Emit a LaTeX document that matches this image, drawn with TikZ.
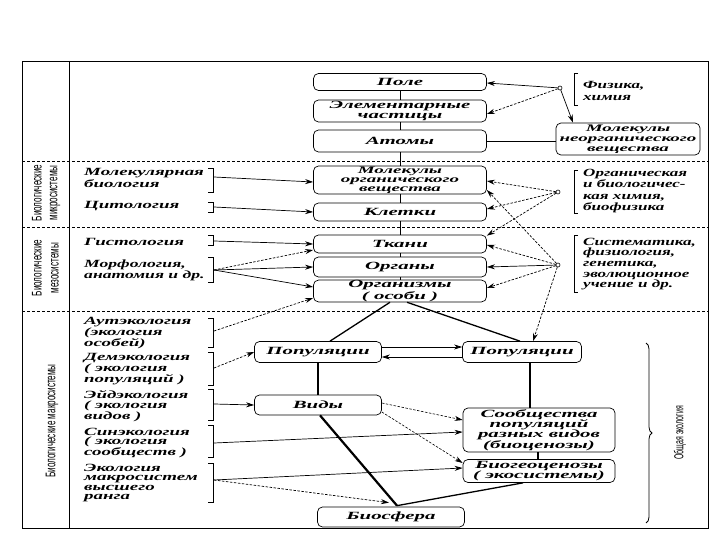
\documentclass[tikz,border=0pt]{standalone}
\usepackage{fontspec}
\setmainfont{Liberation Serif}
\newfontfamily\nodefam[FakeStretch=1.9]{Liberation Serif}
\newfontfamily\lblfam[FakeStretch=1.72]{Liberation Serif}
\newfontfamily\lblfamB[FakeStretch=1.6]{Liberation Serif}
\newfontfamily\rfam[FakeStretch=1.55]{Liberation Serif}
\newfontfamily\vertfont[FakeStretch=0.58]{Liberation Sans}
\newfontfamily\vertfontB[FakeStretch=0.54]{Liberation Sans}
\usetikzlibrary{arrows.meta,decorations.pathreplacing,calc}
\newcommand\dgnfont{\nodefam\fontsize{11}{10}\selectfont\bfseries\itshape}
\newcommand\lblfont{\lblfam\fontsize{11}{9.6}\selectfont\bfseries\itshape}
\newcommand\rlblfont{\rfam\fontsize{11}{11.5}\selectfont\bfseries\itshape}
\begin{document}
\begin{tikzpicture}[x=1pt,y=-1pt,
  box/.style={draw,rounded corners=5pt,line width=0.7pt,align=center,inner sep=0.5pt,font=\dgnfont},
  lbl/.style={anchor=west,align=left,inner sep=0pt,font=\lblfont},
  rlbl/.style={anchor=west,align=left,inner sep=0pt,font=\rlblfont},
  vlbl/.style={rotate=90,inner sep=0pt,font=\vertfont\fontsize{14}{14}\selectfont},
  arr/.style={-{Stealth[length=8pt,width=5pt]},line width=0.7pt},
  darr/.style={arr,dash pattern=on 2.5pt off 1.5pt},
  thin/.style={line width=0.7pt},
  mid/.style={line width=1.3pt},
  thick2/.style={line width=2.2pt},
  brk/.style={line width=0.7pt},
  sep/.style={line width=0.6pt,dash pattern=on 3pt off 2pt},
  frame/.style={line width=0.8pt},
  src/.style={circle,draw,fill=white,inner sep=0pt,minimum size=4pt,line width=0.6pt}
]
\useasboundingbox (0,0) rectangle (720,540);
% frame
\draw[frame] (22,61) rectangle (708,528);
\draw[frame] (69,61) -- (69,528);
\draw[sep] (22,161) -- (708,161);
\draw[sep] (22,227) -- (708,227);
\draw[sep] (22,311) -- (708,311);
% vertical labels
\node[vlbl] (v1a) at (37,193) {Биологические};
\node[vlbl] (v1b) at (55,193) {микросистемы};
\node[vlbl] (v2a) at (37,268) {Биологические};
\node[vlbl] (v2b) at (55,268) {мезосистемы};
\node[vlbl] (v3) at (52,421) {Биологические макросистемы};
\node[vlbl,font=\vertfontB\fontsize{13}{13}\selectfont] (v4) at (680,433) {Общая экология};
% central column
\node[box,minimum width=173pt,minimum height=17pt] (pole) at (400,82) {Поле};
\node[box,minimum width=173pt,minimum height=22pt] (elem) at (400,111) {Элементарные\\частицы};
\node[box,minimum width=173pt,minimum height=22pt] (atom) at (400,141) {Атомы};
\node[box,minimum width=173pt,minimum height=28pt,font=\nodefam\fontsize{10}{9}\selectfont\bfseries\itshape] (mol) at (400,180) {Молекулы\\органического\\вещества};
\node[box,minimum width=173pt,minimum height=18pt] (cell) at (400,212) {Клетки};
\node[box,minimum width=173pt,minimum height=18pt] (tk) at (400,244) {Ткани};
\node[box,minimum width=173pt,minimum height=20pt] (orgn) at (400,267) {Органы};
\node[box,minimum width=173pt,minimum height=21pt] (orgm) at (400,291) {Организмы\\( особи )};
\node[box,minimum width=144pt,minimum height=32pt,font=\nodefam\fontsize{10}{10}\selectfont\bfseries\itshape] (neorg) at (628,139) {Молекулы\\неорганического\\вещества};
% lower nodes
\node[box,minimum width=127pt,minimum height=21pt] (pop1) at (318,352) {Популяции};
\node[box,minimum width=119pt,minimum height=21pt] (pop2) at (522,352) {Популяции};
\node[box,minimum width=127pt,minimum height=20pt] (vidy) at (318,405) {Виды};
\node[box,minimum width=152pt,minimum height=44pt,font=\nodefam\fontsize{11}{10.3}\selectfont\bfseries\itshape] (soob) at (539,430) {Сообщества\\популяций\\разных видов\\(биоценозы)};
\node[box,minimum width=152pt,minimum height=23pt] (biog) at (539,471) {Биогеоценозы\\( экосистемы)};
\node[box,minimum width=147pt,minimum height=20pt] (bios) at (391,517) {Биосфера};
\coordinate (jn) at ([xshift=6pt,yshift=1pt]bios.north);
% central vertical connectors
\draw[thin] (pole) -- (elem);
\draw[thin] (elem) -- (atom);
\draw[thin] (atom) -- (mol);
\draw[thin] (mol) -- (cell);
\draw[thin] (cell) -- (tk);
\draw[thin] (tk) -- (orgn);
\draw[thin] (orgn) -- (orgm);
\draw[thin] (atom.east) -- (atom.east -| neorg.west);
% left labels
\node[lbl] (lMB) at (84,178) {Молекулярная\\биология};
\node[lbl] (lCyt) at (84,206) {Цитология};
\node[lbl] (lHist) at (84,242) {Гистология};
\node[lbl,font=\lblfamB\fontsize{11}{11}\selectfont\bfseries\itshape] (lMorph) at (84,270) {Морфология,\\анатомия и др.};
\node[lbl] (lAut) at (84,333) {Аутэкология\\(экология\\особей)};
\node[lbl] (lDem) at (84,369) {Демэкология\\( экология\\популяций )};
\node[lbl] (lEid) at (84,406) {Эйдэкология\\( экология\\видов )};
\node[lbl] (lSyn) at (84,443) {Синэкология\\( экология\\сообществ )};
\node[lbl] (lEco) at (84,483) {Экология\\макросистем\\высшего\\ранга};
% left brackets
\draw[brk] (208,168) -- (213,168) -- (213,192) -- (208,192);
\draw[brk] (208,202) -- (213,202) -- (213,212) -- (208,212);
\draw[brk] (208,235) -- (213,235) -- (213,245) -- (208,245);
\draw[brk] (208,257) -- (213,257) -- (213,282) -- (208,282);
\draw[brk] (208,318) -- (213,318) -- (213,347) -- (208,347);
\draw[brk] (208,352) -- (213,352) -- (213,385) -- (208,385);
\draw[brk] (208,389) -- (213,389) -- (213,420) -- (208,420);
\draw[brk] (208,425) -- (213,425) -- (213,457) -- (208,457);
\draw[brk] (208,463) -- (213,463) -- (213,502) -- (208,502);
\coordinate (bMB) at (214,177);
\coordinate (bCyt) at (214,207);
\coordinate (bHist) at (214,241);
\coordinate (bMorph) at (214,270);
\coordinate (bAut) at (214,331);
\coordinate (bDem) at (214,368);
\coordinate (bEid) at (214,404);
\coordinate (bSyn) at (214,443);
\coordinate (bEco) at (214,480);
% right labels
\node[rlbl,font=\rfam\fontsize{11}{12}\selectfont\bfseries\itshape] (tFiz) at (583,91) {Физика,\\химия};
\node[rlbl] (tOrg) at (583,191) {Органическая\\и биологичес-\\кая химия,\\биофизика};
\node[rlbl,font=\rfam\fontsize{11}{10.7}\selectfont\bfseries\itshape] (tSys) at (583,264) {Систематика,\\физиология,\\генетика,\\эволюционное\\учение и др.};
\draw[brk] (578,73) -- (574,73) -- (574,105) -- (578,105);
\draw[brk] (578,170) -- (574,170) -- (574,213) -- (578,213);
\draw[brk] (578,235) -- (574,235) -- (574,292) -- (578,292);
% source points
\node[src] (s1) at (560,88) {};
\node[src] (s2) at (558,192) {};
\node[src] (s3) at (558,265) {};
% arrows from right sources
\draw[arr] (s1) -- ([yshift=-1pt]pole.east);
\draw[darr] (s1) -- ([yshift=-3pt]elem.east);
\draw[arr] (s1) -- ([xshift=-55pt]neorg.north);
\draw[darr] (s2) -- ([yshift=-1pt]mol.east);
\draw[darr] (s2) -- ([yshift=3pt]cell.east);
\draw[darr] (s2) -- ([yshift=-1pt]tk.north east);
\draw[darr] (s3) -- ([yshift=-10pt]mol.east);
\draw[darr] (s3) -- ([yshift=-1pt]tk.east);
\draw[arr] (s3) -- (orgn.east);
\draw[darr] (s3) -- ([yshift=3pt]orgm.east);
\draw[darr] (s3) -- ([xshift=11pt]pop2.north);
% arrows from left labels
\draw[arr] (bMB) -- ([yshift=-2pt]mol.west);
\draw[arr] (bCyt) -- (cell.west);
\draw[arr] (bHist) -- (tk.west);
\draw[darr] (bMorph) -- ([yshift=-6pt]tk.west);
\draw[arr] (bMorph) -- (orgn.west);
\draw[arr] (bMorph) -- ([yshift=4pt]orgm.west);
\draw[darr] (bAut) -- ([yshift=-7pt]orgm.west);
\draw[darr] (bDem) -- (pop1.west);
\draw[arr] (bEid) -- (vidy.west);
\draw[arr] (bSyn) -- ([yshift=-2pt]soob.west);
\draw[arr] (bEco) -- ([yshift=3pt]biog.west);
\draw[darr] (bEco) -- ([xshift=-8pt,yshift=3pt]jn);
% lower structure
\draw[mid] ([xshift=-10pt]orgm.south) -- ([xshift=12pt]pop1.north);
\draw[mid] ([xshift=7pt]orgm.south) -- ([xshift=-2pt]pop2.north);
\draw[arr] ([yshift=5pt]pop1.east) -- ([yshift=5pt]pop1.east -| pop2.west);
\draw[arr] ([yshift=-5pt]pop2.west) -- ([yshift=-5pt]pop2.west -| pop1.east);
\draw[thick2] (pop1.south) -- (vidy.north);
\draw[thick2] ([xshift=8pt]pop2.south) -- ([xshift=8pt]pop2.south |- soob.north);
\draw[thick2] ([xshift=-1pt]soob.south) -- ([xshift=-1pt]soob.south |- biog.north);
\draw[darr,line width=0.6pt] ([yshift=2pt]vidy.east) -- ([yshift=10pt]soob.west);
\draw[darr,line width=0.6pt] ([yshift=-7pt]vidy.east) -- ([yshift=8pt]biog.west);
\draw[thick2] ([xshift=2pt]vidy.south) -- (jn);
\draw[mid] ([xshift=-16pt]biog.south) -- (jn);
% brace
\draw[line width=0.8pt,decorate,decoration={brace,amplitude=6pt}] (646,343) -- (646,523);
\end{tikzpicture}
\end{document}
